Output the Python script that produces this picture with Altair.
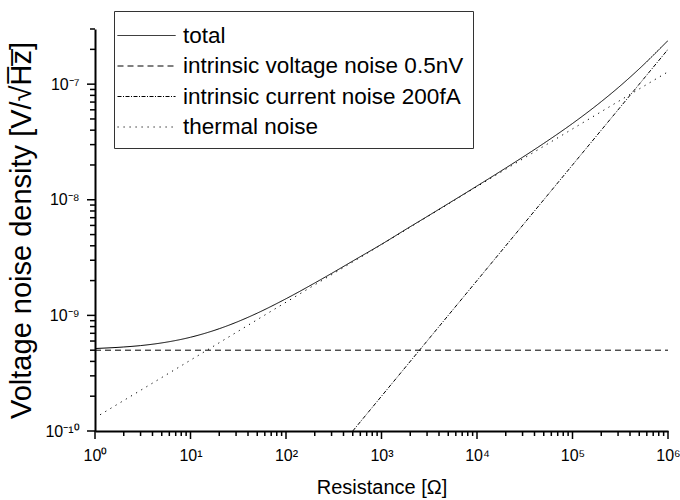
import altair as alt
import pandas as pd

# ---- data (log-log) ----
series_names = [
    "total",
    "intrinsic voltage noise 0.5nV",
    "intrinsic current noise 200fA",
    "thermal noise",
]

R_total = [1, 2, 3, 5, 10, 20, 30, 50, 100, 200, 300, 500, 1e3, 2e3, 3e3, 5e3,
           1e4, 2e4, 3e4, 5e4, 1e5, 2e5, 3e5, 5e5, 1e6]
V_total = [5.17e-10, 5.33e-10, 5.48e-10, 5.78e-10, 6.47e-10, 7.67e-10, 8.70e-10,
           1.046e-9, 1.393e-9, 1.906e-9, 2.307e-9, 2.951e-9, 4.12e-9, 5.85e-9,
           7.16e-9, 9.26e-9, 1.316e-8, 1.882e-8, 2.331e-8, 3.074e-8, 4.57e-8,
           7.06e-8, 9.31e-8, 1.358e-7, 2.385e-7]

R_voltage = [1, 1e6]
V_voltage = [5e-10, 5e-10]

R_current = [500, 1e3, 1e4, 1e5, 1e6]
V_current = [1e-10, 2e-10, 2e-9, 2e-8, 2e-7]

R_thermal = [1, 10, 100, 1e3, 1e4, 1e5, 1e6]
V_thermal = [1.3e-10, 4.1e-10, 1.3e-9, 4.1e-9, 1.3e-8, 4.1e-8, 1.28e-7]

x_major = [1, 10, 100, 1e3, 1e4, 1e5, 1e6]
x_labels = ["10\u2070", "10\u00b9", "10\u00b2", "10\u00b3", "10\u2074", "10\u2075", "10\u2076"]
y_major = [1e-10, 1e-9, 1e-8, 1e-7]
y_labels = ["10\u207b\u00b9\u2070", "10\u207b\u2079", "10\u207b\u2078", "10\u207b\u2077"]

dash_patterns = [[1, 0], [6, 4], [4, 1.5, 1, 1.5], [1.2, 4.8]]

# ---- build table ----
rows = []
for name, rs, vs in zip(series_names,
                        [R_total, R_voltage, R_current, R_thermal],
                        [V_total, V_voltage, V_current, V_thermal]):
    for r, v in zip(rs, vs):
        rows.append({"series": name, "R": r, "V": v})
df = pd.DataFrame(rows)

x_minor = [m * d for d in x_major[:-1] for m in range(2, 10)]
y_minor = [m * d for d in y_major for m in range(2, 10)]
y_minor = [t for t in y_minor if t <= 3.0000001e-7]


def label_expr(values, labels):
    expr = "''"
    for v, l in reversed(list(zip(values, labels))):
        expr = f"datum.value == {repr(float(v))} ? '{l}' : ({expr})"
    return expr


FONT = "Liberation Sans"
PLOT_W, PLOT_H = 573, 402
MAJOR_LEN, MINOR_LEN = 8, 5

x_scale = alt.Scale(type="log", domain=[1, 1e6], nice=False)
y_scale = alt.Scale(type="log", domain=[1e-10, 3e-7], nice=False)

x_axis = alt.Axis(
    orient="bottom", values=x_major, grid=False,
    domain=True, domainWidth=2, domainColor="black",
    ticks=False,
    labelExpr=label_expr(x_major, x_labels),
    labelFont=FONT, labelFontSize=16, labelColor="black",
    labelPadding=16, labelFlush=False, labelOverlap=False,
    title="Resistance [\u03a9]",
    titleFont=FONT, titleFontSize=20, titleFontWeight="normal", titleColor="black",
    titlePadding=14,
)
y_axis = alt.Axis(
    orient="left", values=y_major, grid=False,
    domain=True, domainWidth=2, domainColor="black",
    ticks=False,
    labelExpr=label_expr(y_major, y_labels),
    labelFont=FONT, labelFontSize=16, labelColor="black",
    labelPadding=16, labelFlush=False, labelOverlap=False,
    title="Voltage noise density [V/\u221aH\u0305z\u0305]",
    titleFont=FONT, titleFontSize=29, titleFontWeight="normal", titleColor="black",
    titlePadding=8,
)

lines = alt.Chart(df).mark_line(color="black", strokeWidth=1, clip=True, interpolate="monotone").encode(
    x=alt.X("R:Q", scale=x_scale, axis=x_axis),
    y=alt.Y("V:Q", scale=y_scale, axis=y_axis),
    strokeDash=alt.StrokeDash(
        "series:N",
        scale=alt.Scale(domain=series_names, range=dash_patterns),
        legend=alt.Legend(
            orient="none", legendX=19, legendY=-18,
            title=None,
            symbolType="M-1.4,0H2.47",
            symbolSize=900,
            symbolStrokeWidth=1, symbolStrokeColor="black",
            labelFont=FONT, labelFontSize=22.5, labelColor="black",
            labelOffset=29, labelLimit=0,
            labelExpr="datum.label + '\u00a0\u00a0\u00a0'",
            padding=9, rowPadding=3.5,
            strokeColor="#333333", fillColor="white",
        ),
    ),
    order=alt.Order("R:Q"),
)


def x_tick_layer(values, length):
    return alt.Chart(pd.DataFrame({"R": values})).mark_rule(
        color="black", strokeWidth=1.5
    ).encode(
        x=alt.X("R:Q", scale=x_scale, axis=None),
        y=alt.value(PLOT_H), y2=alt.value(PLOT_H + length),
    )


def y_tick_layer(values, length):
    return alt.Chart(pd.DataFrame({"V": values})).mark_rule(
        color="black", strokeWidth=1.5
    ).encode(
        y=alt.Y("V:Q", scale=y_scale, axis=None),
        x=alt.value(0), x2=alt.value(-length),
    )


chart = alt.layer(
    lines,
    x_tick_layer(x_minor, MINOR_LEN),
    x_tick_layer(x_major, MAJOR_LEN),
    y_tick_layer(y_minor, MINOR_LEN),
    y_tick_layer(y_major, MAJOR_LEN),
).resolve_axis(
    x="independent", y="independent"
).properties(
    width=PLOT_W, height=PLOT_H,
    background="white",
    autosize=alt.AutoSizeParams(type="none"),
    padding={"left": 95, "top": 29, "right": 12, "bottom": 69},
).configure_view(stroke="transparent", strokeWidth=0)

chart.save("out.html", embed_options={"renderer": "svg", "actions": False})
